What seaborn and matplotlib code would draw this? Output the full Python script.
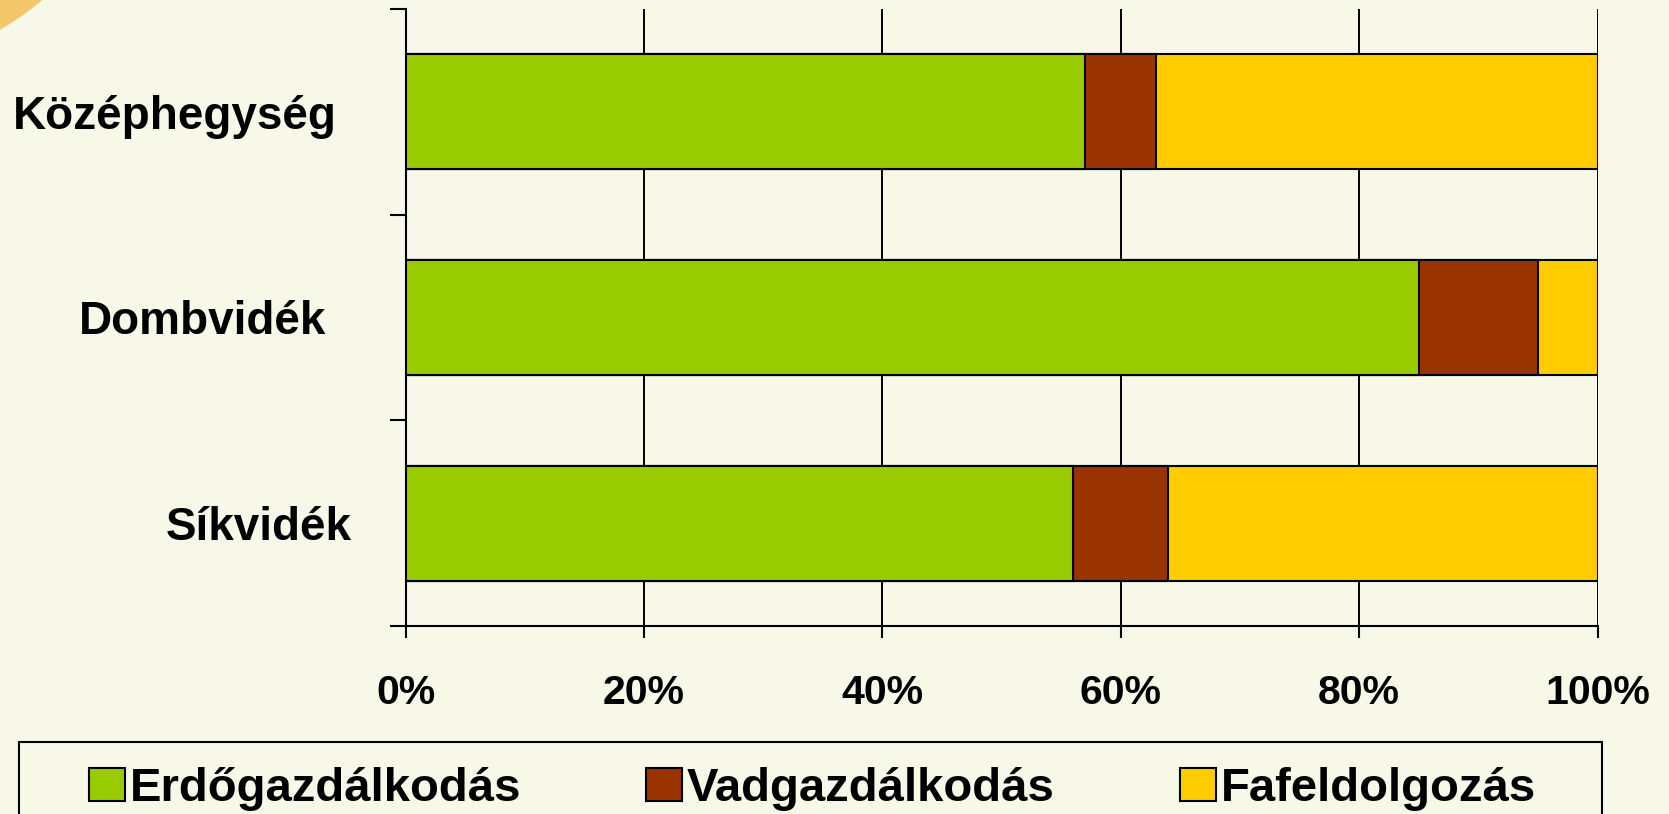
import numpy as np
import pandas as pd
import matplotlib
matplotlib.use("Agg")
import matplotlib.pyplot as plt
from matplotlib.patches import Circle, Patch, Rectangle
from matplotlib.ticker import PercentFormatter, FixedLocator
import seaborn as sns

# data (shares in %)
regions = ["Középhegység", "Dombvidék", "Síkvidék"]
erdo = [57, 85, 56]     # Erdőgazdálkodás
vad = [6, 10, 8]        # Vadgazdálkodás
fa = [37, 5, 36]        # Fafeldolgozás
series_names = ["Erdőgazdálkodás", "Vadgazdálkodás", "Fafeldolgozás"]
series_colors = ["#99CC00", "#993300", "#FFCC00"]
x_ticks = [0, 20, 40, 60, 80, 100]

BG = "#F8F8E8"

sns.set_theme(style="white")
plt.rcParams["font.family"] = ["Liberation Sans", "DejaVu Sans"]
plt.rcParams["font.weight"] = "bold"
plt.rcParams["text.color"] = "black"
plt.rcParams["xtick.color"] = "black"
plt.rcParams["ytick.color"] = "black"

df = pd.DataFrame({"region": regions, "erdo": erdo, "vad": vad, "fa": fa})
# cumulative ends so bars can be drawn back to front as a stack
df["c1"] = df["erdo"]
df["c2"] = df["erdo"] + df["vad"]
df["c3"] = df["erdo"] + df["vad"] + df["fa"]

fig = plt.figure(figsize=(16.69, 8.14), dpi=100, facecolor=BG)
ax = fig.add_axes([405.5 / 1669, 1 - 626 / 814, 1192 / 1669, 617 / 814])
ax.set_facecolor(BG)

# decorative orange corner at top left
fig.patches.append(Circle((-130, 814 + 200), 264, transform=None,
                          facecolor="#F4C76C", edgecolor="none", zorder=0))
# legend box (runs off the bottom edge like in the original)
fig.patches.append(Rectangle((19, -30), 1583, 814 - 742 + 30, transform=None,
                             facecolor=BG, edgecolor="black", linewidth=1.5,
                             zorder=1))

for col, color in zip(["c3", "c2", "c1"], series_colors[::-1]):
    sns.barplot(data=df, x=col, y="region", orient="h", color=color,
                saturation=1, width=0.56, edgecolor="black", linewidth=1.5,
                ax=ax, zorder=3)

ax.set_xlim(0, 100)
ax.set_ylim(2.5, -0.5)
ax.set_xlabel("")
ax.set_ylabel("")

ax.xaxis.set_major_locator(FixedLocator(x_ticks))
ax.xaxis.set_major_formatter(PercentFormatter(100, decimals=0))
ax.tick_params(axis="x", direction="out", length=8.6, width=1.5,
               color="black", labelcolor="black", pad=26, labelsize=29.5,
               bottom=True)
for lab in ax.get_xticklabels():
    lab.set_fontweight("bold")

ax.grid(axis="x", color="black", linewidth=1.4, zorder=0)
ax.set_axisbelow(True)

# y: labels at category centers, tick marks at category boundaries
ax.yaxis.set_minor_locator(FixedLocator([-0.5, 0.5, 1.5, 2.5]))
ax.tick_params(axis="y", which="major", length=0, labelsize=33,
               labelcolor="black")
ax.tick_params(axis="y", which="minor", direction="out", length=11.5,
               width=1.5, color="black", left=True)
for tick, pad in zip(ax.yaxis.get_major_ticks(), [49.3, 57.2, 38.5]):
    tick.set_pad(pad)
for lab in ax.get_yticklabels():
    lab.set_fontweight("bold")

for side in ["top", "right"]:
    ax.spines[side].set_visible(False)
for side in ["left", "bottom"]:
    ax.spines[side].set_color("black")
    ax.spines[side].set_linewidth(1.5)

handles = [Patch(facecolor=c, edgecolor="black", linewidth=1.5) for c in series_colors]
leg = fig.legend(handles, series_names, loc="center left", ncol=3,
                 bbox_to_anchor=(89 / 1669, 1 - 789 / 814),
                 bbox_transform=fig.transFigure,
                 borderaxespad=0, borderpad=0,
                 prop={"weight": "bold", "size": 34},
                 handlelength=0.76, handleheight=0.72, handletextpad=0.1,
                 columnspacing=2.65, frameon=False)
for t in leg.get_texts():
    t.set_color("black")

fig.savefig("out.png", dpi=100, facecolor=BG)
